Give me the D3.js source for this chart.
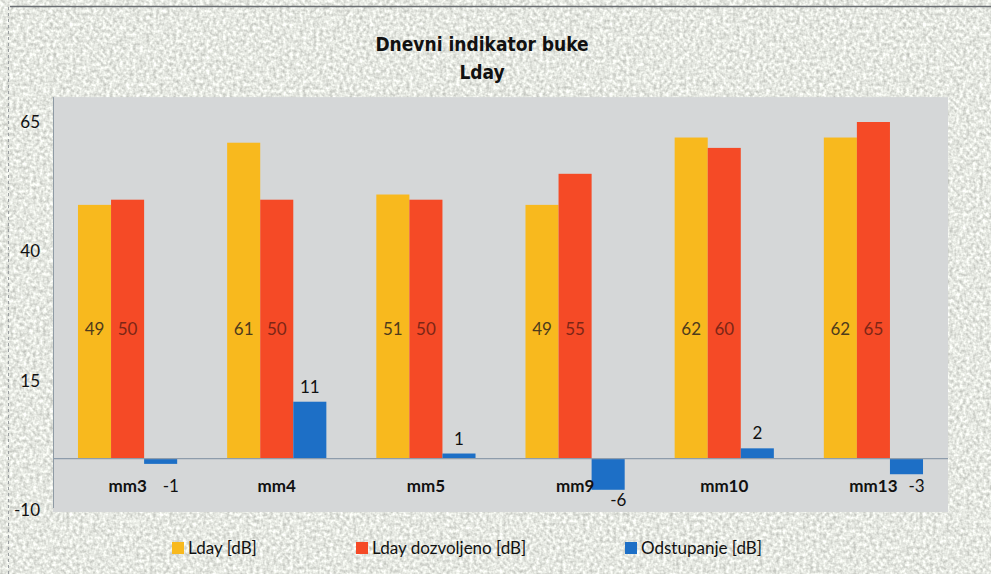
<!DOCTYPE html>
<html>
<head>
<meta charset="utf-8">
<script src="https://cdn.jsdelivr.net/npm/d3@7"></script>
<style>
  body { margin: 0; background: #e2e4e0; }
  svg { display: block; }
</style>
</head>
<body>
<svg id="graf" width="991" height="574"></svg>
<script>
"use strict";

// podaci
var mjesta = ["mm3", "mm4", "mm5", "mm9", "mm10", "mm13"];
var lday = [49, 61, 51, 49, 62, 62];
var ldayDozvoljeno = [50, 50, 50, 55, 60, 65];
var odstupanje = [-1, 11, 1, -6, 2, -3];
var yTickovi = [65, 40, 15, -10];
var serije = ["Lday [dB]", "Lday dozvoljeno [dB]", "Odstupanje [dB]"];
var boje = ["#f8b91e", "#f54a26", "#1d6fc6"];
var bojeOznaka = ["#4e3b1c", "#7c2616", "#111111"];

var font = "Lato, 'Open Sans', sans-serif";
var svg = d3.select("#graf");

// pozadina - sken papira
var defs = svg.append("defs");
var filt = defs.append("filter").attr("id", "sum").attr("x", 0).attr("y", 0).attr("width", "100%").attr("height", "100%")
    .attr("color-interpolation-filters", "sRGB");
filt.append("feTurbulence").attr("type", "fractalNoise").attr("baseFrequency", 0.3).attr("numOctaves", 2).attr("seed", 3).attr("result", "n");
filt.append("feColorMatrix").attr("in", "n").attr("type", "matrix")
    .attr("values", "0.42 0 0 0 0.69  0.42 0 0 0 0.70  0.42 0 0 0 0.675  0 0 0 0 1");

svg.append("rect").attr("width", 991).attr("height", 574).attr("fill", "#e0e2de").attr("filter", "url(#sum)");

// rub skena
svg.append("line").attr("x1", 10).attr("x2", 991).attr("y1", 6.5).attr("y2", 6.5).attr("stroke", "#6a6e72").attr("stroke-width", 1.5);
svg.append("line").attr("x1", 8.5).attr("x2", 8.5).attr("y1", 7).attr("y2", 574).attr("stroke", "#9a9ea0").attr("stroke-width", 1).attr("stroke-dasharray", "3,3");

var x = d3.scaleBand().domain(mjesta).range([53, 948]).paddingInner(0.335).paddingOuter(0.1675);
var xSerija = d3.scaleBand().domain(d3.range(3)).range([0, x.bandwidth()]);
var y = d3.scaleLinear().domain([-10, 65]).range([510.5, 122]);

// podrucje grafa
svg.append("rect").attr("x", 53).attr("y", y(69.8)).attr("width", 948 - 53).attr("height", 512 - y(69.8)).attr("fill", "#d5d7d8");

// y os
svg.append("line").attr("x1", 53.5).attr("x2", 53.5).attr("y1", y(69.8)).attr("y2", 508).attr("stroke", "#8e9aa4");
svg.selectAll(".ytick").data(yTickovi).enter().append("text")
    .attr("x", 40).attr("y", function(d) { return y(d); }).attr("dy", "0.35em")
    .attr("text-anchor", "end").attr("font-family", font).attr("font-size", 17).attr("fill", "#111")
    .text(function(d) { return d; });

// stupci
var vrijednosti = [lday, ldayDozvoljeno, odstupanje];
vrijednosti.forEach(function(serija, s) {
    svg.selectAll(".bar" + s).data(serija).enter().append("rect")
        .attr("x", function(d, i) { return x(mjesta[i]) + xSerija(s); })
        .attr("y", function(d) { return y(Math.max(0, d)); })
        .attr("width", xSerija.bandwidth())
        .attr("height", function(d) { return Math.abs(y(d) - y(0)); })
        .attr("fill", boje[s]);
});

// nulta linija
svg.append("line").attr("x1", 53).attr("x2", 948).attr("y1", y(0)).attr("y2", y(0)).attr("stroke", "#8e9cab").attr("stroke-width", 1.2);

// oznake unutar stupaca
[lday, ldayDozvoljeno].forEach(function(serija, s) {
    svg.selectAll(".lab" + s).data(serija).enter().append("text")
        .attr("x", function(d, i) { return x(mjesta[i]) + xSerija(s) + xSerija.bandwidth() / 2; })
        .attr("y", (y(0) + y(50)) / 2).attr("dy", "0.35em")
        .attr("text-anchor", "middle").attr("font-family", font).attr("font-size", 17)
        .attr("fill", bojeOznaka[s])
        .text(function(d) { return d; });
});

// oznake odstupanja
svg.selectAll(".labO").data(odstupanje).enter().append("text")
    .attr("x", function(d, i) {
        var cx = x(mjesta[i]) + xSerija(2) + xSerija.bandwidth() / 2;
        return d < 0 ? cx + 2 : cx;
    })
    .attr("y", function(d) { return d < 0 ? Math.max(y(d) + 16, 492) : y(d) - 9; })
    .attr("text-anchor", function(d) { return d < 0 ? "start" : "middle"; })
    .attr("font-family", font).attr("font-size", 17).attr("fill", "#111")
    .text(function(d) { return d; });

// kategorije
svg.selectAll(".kat").data(mjesta).enter().append("text")
    .attr("x", function(d) { return x(d) + x.bandwidth() / 2; }).attr("y", 492)
    .attr("text-anchor", "middle").attr("font-family", font).attr("font-weight", "bold").attr("font-size", 17).attr("fill", "#111")
    .text(function(d) { return d; });

// naslov
var naslov = svg.append("text").attr("text-anchor", "middle").attr("font-family", "'DejaVu Sans Condensed', 'Liberation Sans Narrow', sans-serif")
    .attr("font-stretch", "condensed").attr("font-weight", "bold").attr("font-size", 19).attr("fill", "#111");
naslov.append("tspan").attr("x", 482).attr("y", 51).text("Dnevni indikator buke");
naslov.append("tspan").attr("x", 482).attr("y", 79).text("Lday");

// legenda
var legX = [172, 356, 625];
var leg = svg.selectAll(".leg").data(serije).enter().append("g")
    .attr("transform", function(d, i) { return "translate(" + legX[i] + ",548)"; });
leg.append("rect").attr("x", 0).attr("y", -6).attr("width", 12).attr("height", 12).attr("fill", function(d, i) { return boje[i]; });
leg.append("text").attr("x", 16).attr("y", 0).attr("dy", "0.35em").attr("font-family", font).attr("font-size", 17).attr("fill", "#111")
    .text(function(d) { return d; });
</script>
</body>
</html>
